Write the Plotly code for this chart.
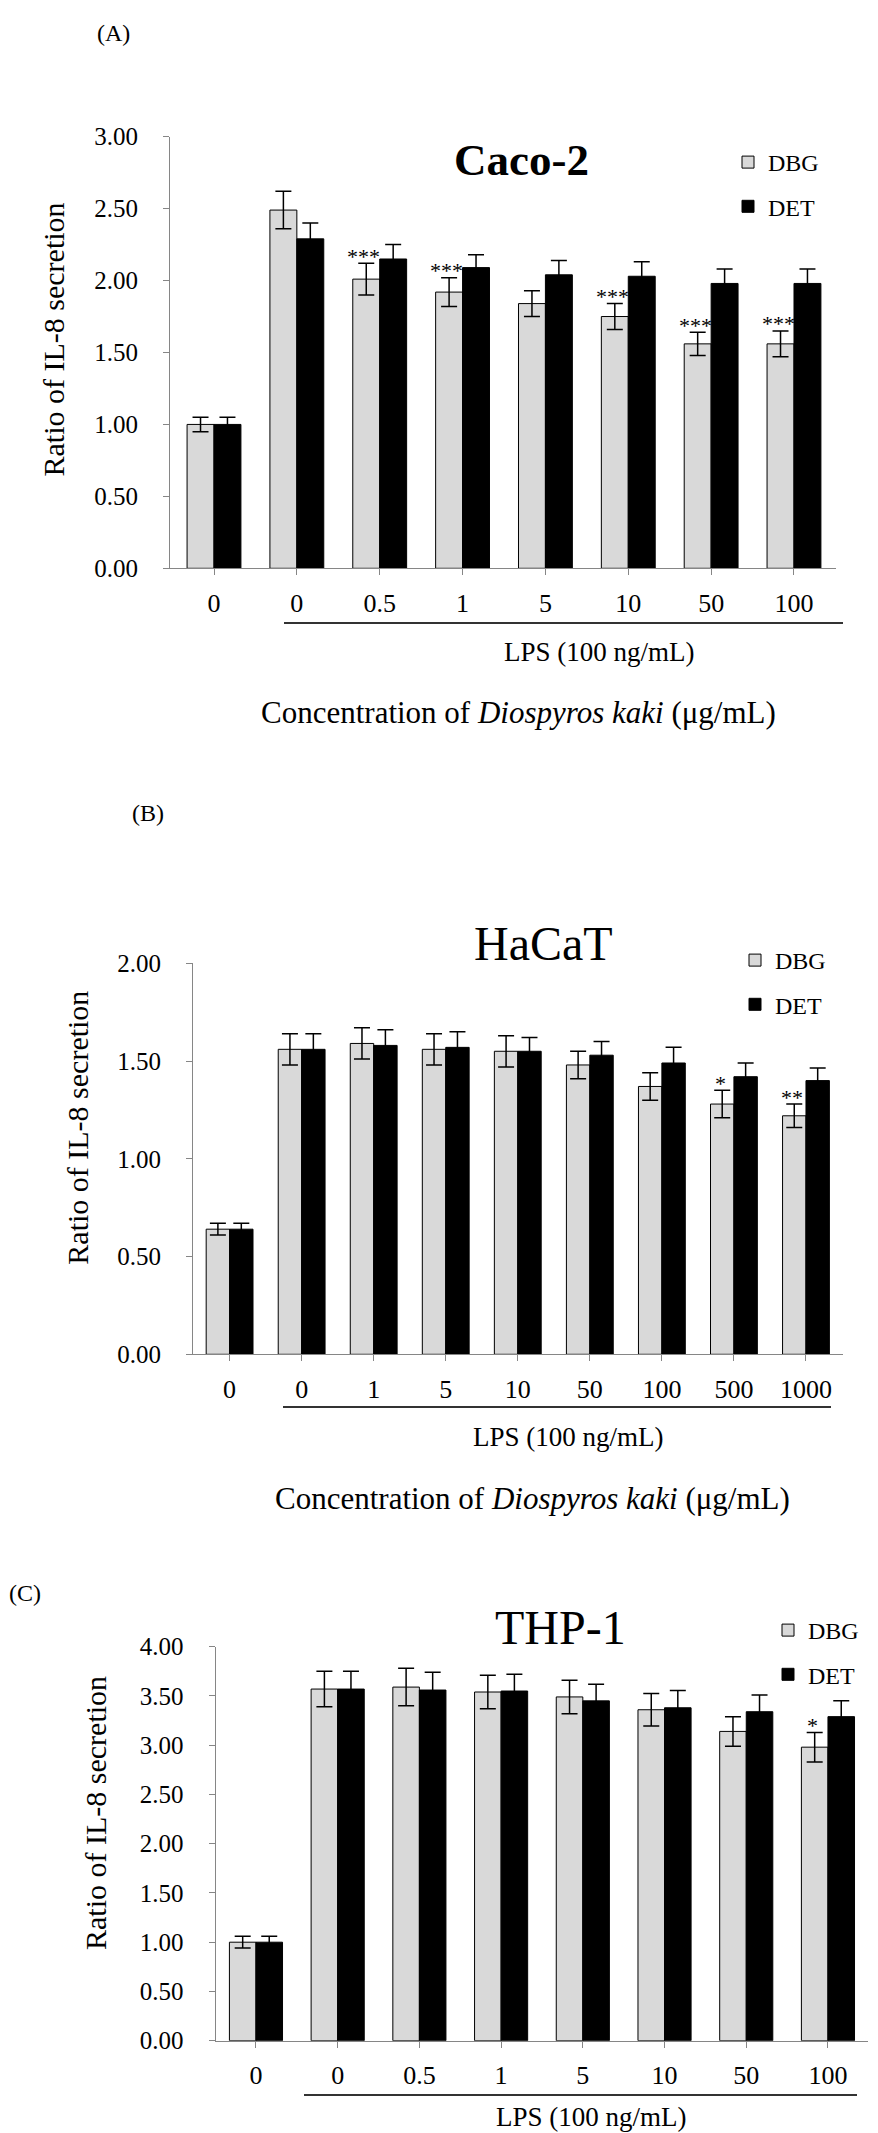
import plotly.graph_objects as go

W, H = 878, 2133
FONT = "Liberation Serif"

# ---------------- data ----------------
A_labels = ["0", "0", "0.5", "1", "5", "10", "50", "100"]
A_dbg = [1.00, 2.49, 2.01, 1.92, 1.84, 1.75, 1.56, 1.56]
A_dbg_err = [0.05, 0.13, 0.11, 0.10, 0.09, 0.09, 0.08, 0.09]
A_det = [1.00, 2.29, 2.15, 2.09, 2.04, 2.03, 1.98, 1.98]
A_det_err = [0.05, 0.11, 0.10, 0.09, 0.10, 0.10, 0.10, 0.10]
A_sig = ["", "", "***", "***", "", "***", "***", "***"]

B_labels = ["0", "0", "1", "5", "10", "50", "100", "500", "1000"]
B_dbg = [0.64, 1.56, 1.59, 1.56, 1.55, 1.48, 1.37, 1.28, 1.22]
B_dbg_err = [0.03, 0.08, 0.08, 0.08, 0.08, 0.07, 0.07, 0.07, 0.06]
B_det = [0.64, 1.56, 1.58, 1.57, 1.55, 1.53, 1.49, 1.42, 1.40]
B_det_err = [0.03, 0.08, 0.08, 0.08, 0.07, 0.07, 0.08, 0.07, 0.065]
B_sig = ["", "", "", "", "", "", "", "*", "**"]

C_labels = ["0", "0", "0.5", "1", "5", "10", "50", "100"]
C_dbg = [1.00, 3.57, 3.59, 3.54, 3.49, 3.36, 3.14, 2.98]
C_dbg_err = [0.06, 0.18, 0.19, 0.17, 0.17, 0.165, 0.15, 0.15]
C_det = [1.00, 3.57, 3.56, 3.55, 3.45, 3.38, 3.34, 3.29]
C_det_err = [0.06, 0.18, 0.18, 0.17, 0.17, 0.175, 0.17, 0.16]
C_sig = ["", "", "", "", "", "", "", "*"]

series_names = ["DBG", "DET"]
titles = ["Caco-2", "HaCaT", "THP-1"]
panel_tags = ["(A)", "(B)", "(C)"]
y_title = "Ratio of IL-8 secretion"
lps_text = "LPS (100 ng/mL)"
conc_text = "Concentration of <i>Diospyros kaki</i> (μg/mL)"

GRAY = "#d9d9d9"
AXC = "#868686"


def px(x):
    return x / W


def py(y):
    return 1 - y / H


# layout of each panel (pixel geometry)
panels = [
    dict(labels=A_labels, dbg=A_dbg, dbge=A_dbg_err, det=A_det, dete=A_det_err, sig=A_sig,
         ax=(170, 836), ay=(136.7, 568.3), yr=[0, 3], xr=[-0.531, 7.507],
         tag=(113, 33), title=(521, 160, 45, True), leg=(728, 140),
         ytitle=(52.5, 340), line=(284, 843, 623), lps=(599, 652), conc=(518, 713)),
    dict(labels=B_labels, dbg=B_dbg, dbge=B_dbg_err, det=B_det, dete=B_det_err, sig=B_sig,
         ax=(193, 843), ay=(963.3, 1354.3), yr=[0, 2], xr=[-0.508, 8.514],
         tag=(148, 813), title=(543, 943, 48, False), leg=(735, 938),
         ytitle=(76.7, 1128), line=(283, 831, 1407), lps=(568, 1437), conc=(532, 1498)),
    dict(labels=C_labels, dbg=C_dbg, dbge=C_dbg_err, det=C_det, dete=C_det_err, sig=C_sig,
         ax=(215.6, 868), ay=(1646.7, 2040.7), yr=[0, 4], xr=[-0.494, 7.49],
         tag=(25, 1593), title=(560, 1627, 48, False), leg=(768, 1608),
         ytitle=(95, 1813), line=(304, 857, 2095), lps=(591, 2117), conc=None),
]

fig = go.Figure()
annotations = []
shapes = []

for k, p in enumerate(panels):
    n = k + 1
    xa = "x" if n == 1 else f"x{n}"
    ya = "y" if n == 1 else f"y{n}"
    legname = "legend" if n == 1 else f"legend{n}"
    idx = list(range(len(p["labels"])))
    for s, (vals, errs, col) in enumerate([(p["dbg"], p["dbge"], GRAY), (p["det"], p["dete"], "#000000")]):
        fig.add_trace(go.Bar(
            x=idx, y=vals, name=series_names[s], xaxis=xa, yaxis=ya,
            marker=dict(color=col, line=dict(color="#000000", width=1)),
            error_y=dict(type="data", array=errs, visible=True, color="#000000",
                         thickness=1.5, width=8),
            legend=legname, legendgroup=f"{n}{s}",
        ))
    xkey = "xaxis" if n == 1 else f"xaxis{n}"
    ykey = "yaxis" if n == 1 else f"yaxis{n}"
    fig.update_layout(**{
        xkey: dict(domain=[px(p["ax"][0]), px(p["ax"][1])], anchor=ya, range=p["xr"],
                   tickmode="array", tickvals=idx, ticktext=p["labels"],
                   showline=True, linecolor=AXC, linewidth=1, ticks="outside",
                   ticklen=6, tickcolor=AXC, showgrid=False, zeroline=False,
                   ticklabelstandoff=5, automargin=False,
                   tickfont=dict(family=FONT, size=26, color="#000")),
        ykey: dict(domain=[py(p["ay"][1]), py(p["ay"][0])], anchor=xa, range=p["yr"],
                   dtick=0.5, tick0=0, tickformat=".2f",
                   showline=True, linecolor=AXC, linewidth=1, ticks="outside",
                   ticklen=6, tickcolor=AXC, showgrid=False, zeroline=False,
                   ticklabelstandoff=20, automargin=False,
                   tickfont=dict(family=FONT, size=25, color="#000")),
        legname: dict(x=px(p["leg"][0]), y=py(p["leg"][1]), xanchor="left", yanchor="top",
                      bgcolor="rgba(0,0,0,0)", traceorder="grouped", tracegroupgap=10,
                      font=dict(family=FONT, size=24, color="#000")),
    })
    for i, sg in enumerate(p["sig"]):
        if sg:
            annotations.append(dict(x=i - 0.19, y=p["dbg"][i] + p["dbge"][i], xref=xa, yref=ya,
                                    text=sg, showarrow=False, yanchor="middle", yshift=7,
                                    font=dict(family=FONT, size=22, color="#000")))
    annotations.append(dict(x=px(p["tag"][0]), y=py(p["tag"][1]), xref="paper", yref="paper",
                            text=panel_tags[k], showarrow=False, xanchor="center", yanchor="middle",
                            font=dict(family=FONT, size=24, color="#000")))
    tx, ty, ts, tb = p["title"]
    annotations.append(dict(x=px(tx), y=py(ty), xref="paper", yref="paper",
                            text=f"<b>{titles[k]}</b>" if tb else titles[k], showarrow=False,
                            xanchor="center", yanchor="middle",
                            font=dict(family=FONT, size=ts, color="#000")))
    annotations.append(dict(x=px(p["ytitle"][0]), y=py(p["ytitle"][1]), xref="paper", yref="paper",
                            text=y_title, textangle=-90, showarrow=False,
                            xanchor="center", yanchor="middle",
                            font=dict(family=FONT, size=30, color="#000")))
    annotations.append(dict(x=px(p["lps"][0]), y=py(p["lps"][1]), xref="paper", yref="paper",
                            text=lps_text, showarrow=False, xanchor="center", yanchor="middle",
                            font=dict(family=FONT, size=27, color="#000")))
    if p["conc"]:
        annotations.append(dict(x=px(p["conc"][0]), y=py(p["conc"][1]), xref="paper", yref="paper",
                                text=conc_text, showarrow=False, xanchor="center", yanchor="middle",
                                font=dict(family=FONT, size=31, color="#000")))
    lx0, lx1, ly = p["line"]
    shapes.append(dict(type="line", xref="paper", yref="paper", x0=px(lx0), x1=px(lx1),
                       y0=py(ly), y1=py(ly), line=dict(color="#333333", width=2)))

fig.update_layout(
    width=W, height=H, autosize=False,
    margin=dict(l=0, r=0, t=0, b=0, autoexpand=False),
    paper_bgcolor="white", plot_bgcolor="white",
    barmode="group", bargap=0.35, bargroupgap=0,
    showlegend=True,
    annotations=annotations, shapes=shapes,
    font=dict(family=FONT, color="#000"),
)

fig.write_html("out.html", config={"displayModeBar": False},
               post_script="document.body.style.margin='0px';document.body.style.padding='0px';")
